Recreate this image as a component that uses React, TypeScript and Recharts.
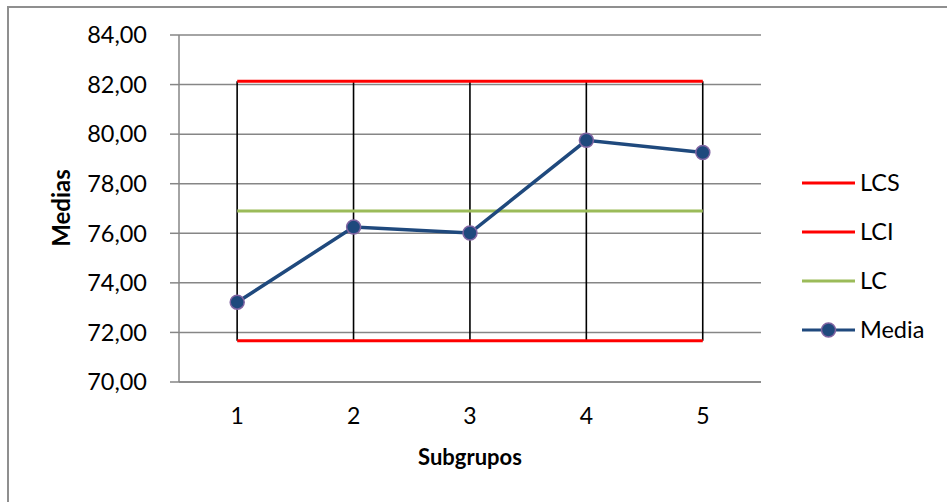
import { Bar, CartesianGrid, ComposedChart, Label, Line, XAxis, YAxis } from 'recharts'

const subgrupos = ['1', '2', '3', '4', '5']
const media = [73.22, 76.25, 76.01, 79.75, 79.26]
const lcs = [82.13, 82.13, 82.13, 82.13, 82.13]
const lci = [71.66, 71.66, 71.66, 71.66, 71.66]
const lc = [76.9, 76.9, 76.9, 76.9, 76.9]
const yTicks = [70, 72, 74, 76, 78, 80, 82, 84]

const data = subgrupos.map((sub, i) => ({
  sub,
  media: media[i],
  lcs: lcs[i],
  lci: lci[i],
  lc: lc[i],
  range: [lci[i], lcs[i]],
}))

const FONT = 'Lato, "Noto Sans", sans-serif'
const BLUE = '#1F497D'
const PURPLE = '#8064A2'

const legendItems = [
  { name: 'LCS', color: '#FF0000', marker: false },
  { name: 'LCI', color: '#FF0000', marker: false },
  { name: 'LC', color: '#9BBB59', marker: false },
  { name: 'Media', color: BLUE, marker: true },
]

const HighLow = (props: any) => {
  const { x, y, width, height } = props
  const cx = x + width / 2
  return <line x1={cx} x2={cx} y1={y} y2={y + height} stroke='#000' strokeWidth={1.6} />
}

const ChartLegend = () => (
  <svg width={147} height={200} style={{ position: 'absolute', left: 800, top: 170, overflow: 'visible' }}>
    {legendItems.map((item, i) => {
      const y = 13 + i * 49
      return (
        <g key={item.name}>
          <line x1={2} x2={55} y1={y} y2={y} stroke={item.color} strokeWidth={3} />
          {item.marker && (
            <circle cx={28.5} cy={y} r={7} fill={BLUE} stroke={PURPLE} strokeWidth={1.5} />
          )}
          <text x={60} y={y} dy='0.35em' fontSize={23.5} fontFamily={FONT} fill='#000'>
            {item.name}
          </text>
        </g>
      )
    })}
  </svg>
)

export default function App() {
  return (
    <div style={{ position: 'absolute', left: 0, top: 0, width: 947, height: 502, background: '#fff', overflow: 'hidden' }}>
      <div
        style={{
          position: 'absolute',
          left: 7,
          top: 6,
          width: 1000,
          height: 600,
          borderLeft: '2px solid #8f8f8f',
          borderTop: '2px solid #8f8f8f',
        }}
      />
      <div style={{ position: 'absolute', left: 0, top: 0 }}>
        <ComposedChart
          width={947}
          height={502}
          data={data}
          margin={{ top: 35, right: 186, bottom: 90, left: 0 }}
        >
          <CartesianGrid vertical={false} stroke='#868686' strokeWidth={1.5} />
          <XAxis
            dataKey='sub'
            height={30}
            axisLine={{ stroke: '#868686', strokeWidth: 1.5 }}
            tickLine={false}
            tickSize={0}
            tickMargin={26}
            tick={{ fill: '#000', fontSize: 23, fontFamily: FONT }}
          >
            <Label
              content={() => (
                <text x={470} y={457} dy='0.35em' textAnchor='middle' fontSize={22} fontWeight='bold' fontFamily={FONT} fill='#000'>
                  Subgrupos
                </text>
              )}
            />
          </XAxis>
          <YAxis
            type='number'
            domain={[70, 84]}
            ticks={yTicks}
            width={179}
            interval={0}
            axisLine={{ stroke: '#868686', strokeWidth: 1.5 }}
            tickLine={{ stroke: '#868686', strokeWidth: 1.5 }}
            tickSize={9}
            tickMargin={23}
            tickFormatter={(v: number) => v.toFixed(2).replace('.', ',')}
            tick={{ fill: '#000', fontSize: 23.5, fontFamily: FONT }}
          >
            <Label
              content={() => (
                <text
                  x={62}
                  y={208}
                  transform='rotate(-90 62 208)'
                  textAnchor='middle'
                  dy='0.35em'
                  fontSize={24}
                  fontWeight='bold'
                  fontFamily={FONT}
                  fill='#000'
                >
                  Medias
                </text>
              )}
            />
          </YAxis>
          <Bar dataKey='range' shape={<HighLow />} legendType='none' isAnimationActive={false} />
          <Line dataKey='lcs' name='LCS' stroke='#FF0000' strokeWidth={3} dot={false} isAnimationActive={false} />
          <Line dataKey='lci' name='LCI' stroke='#FF0000' strokeWidth={3} dot={false} isAnimationActive={false} />
          <Line dataKey='lc' name='LC' stroke='#9BBB59' strokeWidth={3} dot={false} isAnimationActive={false} />
          <Line
            dataKey='media'
            name='Media'
            stroke={BLUE}
            strokeWidth={3.5}
            dot={{ r: 7, fill: BLUE, stroke: PURPLE, strokeWidth: 1.5 }}
            isAnimationActive={false}
          />
        </ComposedChart>
      </div>
      <ChartLegend />
    </div>
  )
}
